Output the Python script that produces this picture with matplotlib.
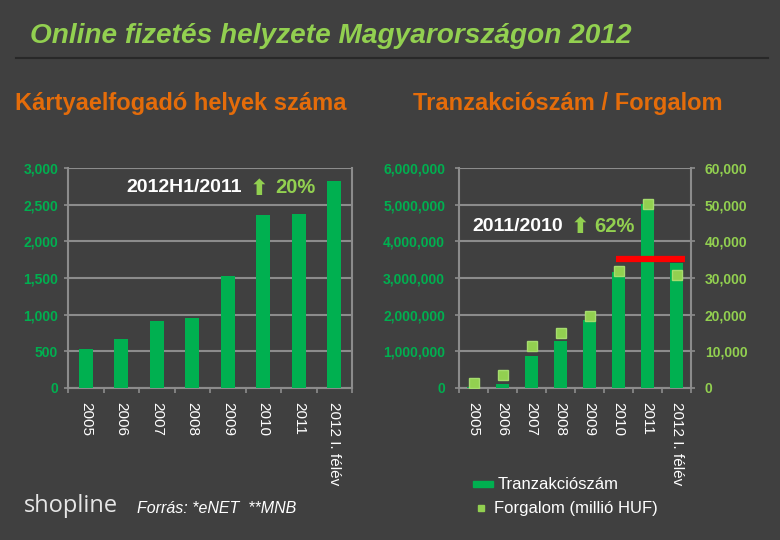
import numpy as np
import matplotlib
matplotlib.use('Agg')
import matplotlib.pyplot as plt
from matplotlib.ticker import FuncFormatter
from matplotlib.lines import Line2D
from matplotlib.patches import Rectangle

# data
years = ['2005', '2006', '2007', '2008', '2009', '2010', '2011', '2012 I. félév']
acceptance_sites = [530, 668, 914, 959, 1527, 2359, 2373, 2823]
transactions = [15000, 117000, 881000, 1282000, 1855000, 3150000, 5030000, 3400000]
turnover = [1280, 3550, 11450, 15090, 19730, 32000, 50180, 30800]
red_level = 35200

BG = '#404040'
GREEN = '#00B050'
LIGHT = '#92D050'
ORANGE = '#E46C0A'
GRID = '#8C8C8C'

plt.rcParams['font.family'] = ['Liberation Sans', 'DejaVu Sans']


def thousands(v, pos):
    return '{:,.0f}'.format(v)


def style_axes(ax, pad):
    ax.set_facecolor(BG)
    ax.grid(axis='y', color=GRID, linewidth=1.5)
    ax.set_axisbelow(True)
    for side in ['left', 'right', 'bottom']:
        ax.spines[side].set_color(GRID)
        ax.spines[side].set_linewidth(1.5)
    ax.spines['top'].set_visible(False)
    n = len(years)
    ax.set_xlim(-0.5, n - 0.5)
    ax.set_xticks(np.arange(n))
    ax.set_xticklabels(years, rotation=270, color='white', fontsize=11,
                       va='top', ha='center')
    ax.set_xticks(np.arange(n + 1) - 0.5, minor=True)
    ax.tick_params(axis='x', which='major', length=0, pad=10)
    ax.tick_params(axis='x', which='minor', length=3.5, color=GRID, width=1.2)
    ax.tick_params(axis='y', length=3, color=GRID, width=1.2, pad=pad,
                   labelcolor=GREEN, labelsize=10)
    for lab in ax.get_yticklabels():
        lab.set_fontweight('bold')
    ax.yaxis.set_major_formatter(FuncFormatter(thousands))


fig = plt.figure(figsize=(7.8, 5.4), dpi=100, facecolor=BG)

# title and header line
fig.text(0.038, 0.92, 'Online fizetés helyzete Magyarországon 2012',
         style='italic', fontweight='bold', fontsize=20.2, color=LIGHT,
         va='baseline')
fig.add_artist(Line2D([0.02, 0.985], [0.893, 0.893], color='#282828',
                      linewidth=1.5))
fig.text(0.019, 0.796, 'Kártyaelfogadó helyek száma', fontsize=17,
         fontweight='bold', color=ORANGE, va='baseline')
fig.text(0.529, 0.796, 'Tranzakciószám / Forgalom', fontsize=17,
         fontweight='bold', color=ORANGE, va='baseline')

# left chart
ax1 = fig.add_axes([0.0872, 0.2815, 0.3641, 0.4074])
x = np.arange(len(years))
ax1.bar(x, acceptance_sites, width=0.4, color=GREEN, zorder=3)
ax1.set_ylim(0, 3000)
ax1.set_yticks(np.arange(0, 3001, 500))
style_axes(ax1, 4)
ax1.text(0.204, 0.91, '2012H1/2011', transform=ax1.transAxes, color='white',
         fontsize=14, fontweight='bold', va='center')
ax1.text(0.638, 0.905, '\u2B06', transform=ax1.transAxes, color=LIGHT,
         fontsize=16, fontweight='bold', va='center',
         family=['DejaVu Sans'])
ax1.text(0.729, 0.91, '20%', transform=ax1.transAxes, color=LIGHT,
         fontsize=14.5, fontweight='bold', va='center')

# right chart
ax2 = fig.add_axes([0.5885, 0.2815, 0.2974, 0.4074])
ax2.bar(x, transactions, width=0.42, color=GREEN, zorder=3)
ax2.set_ylim(0, 6000000)
ax2.set_yticks(np.arange(0, 6000001, 1000000))
style_axes(ax2, 7)

ax3 = ax2.twinx()
ax3.set_ylim(0, 60000)
ax3.set_yticks(np.arange(0, 60001, 10000))
ax3.yaxis.set_major_formatter(FuncFormatter(thousands))
ax3.tick_params(axis='y', length=3, color=GRID, width=1.2, pad=7,
                labelcolor=LIGHT, labelsize=10)
for lab in ax3.get_yticklabels():
    lab.set_fontweight('bold')
for side in ['top', 'left', 'right', 'bottom']:
    ax3.spines[side].set_visible(False)
ax3.plot(x, turnover, linestyle='none', marker='s', markersize=6.5,
         color=LIGHT, markeredgecolor='#A6DC6E', zorder=4)
ax3.plot([4.91, 7.29], [red_level, red_level], color='#FF0000',
         linewidth=4.5, solid_capstyle='butt', zorder=3)
ax3.text(0.056, 0.735, '2011/2010', transform=ax3.transAxes, color='white',
         fontsize=14, fontweight='bold', va='center')
ax3.text(0.48, 0.73, '\u2B06', transform=ax3.transAxes, color=LIGHT,
         fontsize=16, fontweight='bold', va='center',
         family=['DejaVu Sans'])
ax3.text(0.582, 0.735, '62%', transform=ax3.transAxes, color=LIGHT,
         fontsize=14.5, fontweight='bold', va='center')

# legend drawn by hand
fig.add_artist(Rectangle((0.606, 0.098), 0.026, 0.011, color=GREEN))
fig.text(0.638, 0.103, 'Tranzakciószám', color='white', fontsize=12,
         va='center')
fig.add_artist(Line2D([0.617], [0.059], marker='s', markersize=5,
                      color=LIGHT, linestyle='none'))
fig.text(0.633, 0.059, 'Forgalom (millió HUF)', color='white', fontsize=12,
         va='center')

# footer
fig.text(0.03, 0.063, 'shopline', color='#E6E6E6', fontsize=17,
         family=['Open Sans', 'DejaVu Sans'], va='center')
fig.text(0.176, 0.059, 'Forrás: *eNET  **MNB', color='white', fontsize=11.5,
         style='italic', va='center')

fig.savefig('out.png', dpi=100, facecolor=BG)
